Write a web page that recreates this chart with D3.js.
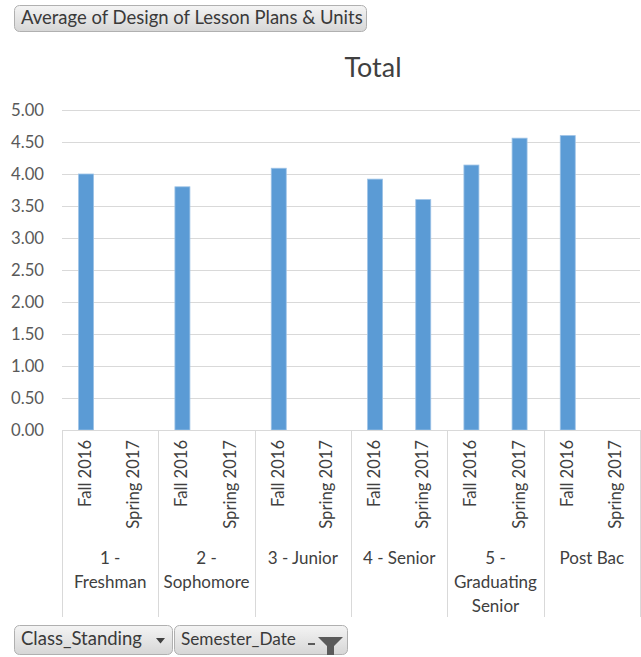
<!DOCTYPE html>
<html><head><meta charset="utf-8">
<script src="https://cdn.jsdelivr.net/npm/d3@7"></script>
<style>body{margin:0;background:#fff;}svg{display:block;}</style>
</head><body>
<script>
const groups = ["1 - Freshman","2 - Sophomore","3 - Junior","4 - Senior","5 - Graduating Senior","Post Bac"];
const groupLines = [["1 -","Freshman"],["2 -","Sophomore"],["3 - Junior"],["4 - Senior"],["5 -","Graduating","Senior"],["Post Bac"]];
const semesters = ["Fall 2016","Spring 2017"];
const fallValues = [4.00, 3.80, 4.09, 3.92, 4.14, 4.60];
const springValues = [null, null, null, 3.60, 4.56, null];
const yTicks = [0,0.5,1,1.5,2,2.5,3,3.5,4,4.5,5];
const title = "Total";
const topButton = "Average of Design of Lesson Plans & Units";
const filterButtons = ["Class_Standing","Semester_Date"];

(function(){
const W=641,H=657;
const svg=d3.select("body").append("svg").attr("width",W).attr("height",H);
const font="Lato, 'Open Sans', sans-serif";
const pLeft=62,pRight=640,pTop=110,pBottom=430;

function fit(sample,target){
  const t=svg.append("text").attr("font-family",font).attr("font-size",100).text(sample);
  const w=t.node().getComputedTextLength(); t.remove();
  return 100*target/w;
}
const sBtn=fit(topButton,342);
const sTick=fit("5.00",33);
const sTitle=fit(title,57);
const sRot=fit("Fall 2016",67);
const sGrp=fit("Graduating",83);
const sBtnA=fit(filterButtons[0],121);
const sBtnB=fit(filterButtons[1],115);

const data=[];
groups.forEach((g,i)=>{data.push({g,s:semesters[0],v:fallValues[i]});data.push({g,s:semesters[1],v:springValues[i]});});
const x0=d3.scaleBand().domain(groups).range([pLeft,pRight]);
const x1=d3.scaleBand().domain(semesters).range([0,x0.bandwidth()]);
const y=d3.scaleLinear().domain([0,5]).range([pBottom,pTop]);

const defs=svg.append("defs");
const gr=defs.append("linearGradient").attr("id","btn").attr("x1",0).attr("y1",0).attr("x2",0).attr("y2",1);
gr.append("stop").attr("offset","0%").attr("stop-color","#f4f4f4");
gr.append("stop").attr("offset","100%").attr("stop-color","#d6d6d6");

function button(x,yy,w,h,text,size){
  svg.append("rect").attr("x",x+0.5).attr("y",yy+0.5).attr("width",w).attr("height",h).attr("rx",5)
    .attr("fill","url(#btn)").attr("stroke","#b0b0b0");
  svg.append("text").attr("x",x+7).attr("y",yy+h/2+5.5).attr("font-family",font).attr("font-size",size)
    .attr("fill","#3a3a3a").text(text);
}
button(14,5,352,26,topButton,sBtn);

svg.append("text").attr("x",373).attr("y",77).attr("text-anchor","middle").attr("font-family",font)
  .attr("font-size",sTitle).attr("fill","#404040").text(title);

svg.append("g").selectAll("line").data(yTicks).join("line")
  .attr("x1",pLeft).attr("x2",pRight).attr("y1",d=>Math.round(y(d))+0.5).attr("y2",d=>Math.round(y(d))+0.5)
  .attr("stroke","#d9d9d9").attr("stroke-width",1);
const ya=svg.append("g").attr("transform",`translate(${pLeft},0)`)
  .call(d3.axisLeft(y).tickValues(yTicks).tickFormat(d3.format(".2f")).tickSize(0).tickPadding(18));
ya.select(".domain").remove();
ya.selectAll("text").attr("font-family",font).attr("font-size",sTick).attr("fill","#595959").attr("dy","0.3em");

const bw=15;
svg.append("g").selectAll("rect").data(data.filter(d=>d.v!=null)).join("rect")
  .attr("x",d=>x0(d.g)+x1(d.s)+x1.bandwidth()/2-bw/2).attr("width",bw)
  .attr("y",d=>y(d.v)).attr("height",d=>y(0)-y(d.v))
  .attr("fill","#5b9bd5").attr("stroke","#9dc3e6").attr("stroke-width",0.8);

const ax=svg.append("g");
const bounds=groups.map(g=>x0(g)).concat([pRight]);
ax.selectAll("line.sep").data(bounds).join("line").attr("class","sep")
  .attr("x1",d=>Math.round(d)+0.5).attr("x2",d=>Math.round(d)+0.5).attr("y1",pBottom).attr("y2",617)
  .attr("stroke","#d9d9d9");
ax.append("line").attr("x1",pLeft).attr("x2",pRight).attr("y1",pBottom+0.5).attr("y2",pBottom+0.5).attr("stroke","#d9d9d9");
groups.forEach(g=>{
  semesters.forEach(s=>{
    const cx=x0(g)+x1(s)+x1.bandwidth()/2;
    ax.append("text").attr("transform",`translate(${cx+5},440) rotate(-90)`).attr("text-anchor","end")
      .attr("font-family",font).attr("font-size",sRot).attr("fill","#404040").text(s);
  });
});
groupLines.forEach((lines,i)=>{
  const cx=x0(groups[i])+x0.bandwidth()/2;
  lines.forEach((t,j)=>{
    ax.append("text").attr("x",cx).attr("y",564+j*24).attr("text-anchor","middle")
      .attr("font-family",font).attr("font-size",sGrp).attr("fill","#404040").text(t);
  });
});

button(14,625,158,29,filterButtons[0],sBtnA);
svg.append("path").attr("d","M156,638 l9,0 l-4.5,5.5 z").attr("fill","#404040");
button(174,625,173,29,filterButtons[1],sBtnB);
svg.append("path").attr("d","M318,637 l25,0 l-9,9 l0,9 l-7,0 l0,-9 z").attr("fill","#5a5a5a");
svg.append("rect").attr("x",308).attr("y",643).attr("width",7).attr("height",2).attr("fill","#5a5a5a");
})();
</script>
</body></html>
